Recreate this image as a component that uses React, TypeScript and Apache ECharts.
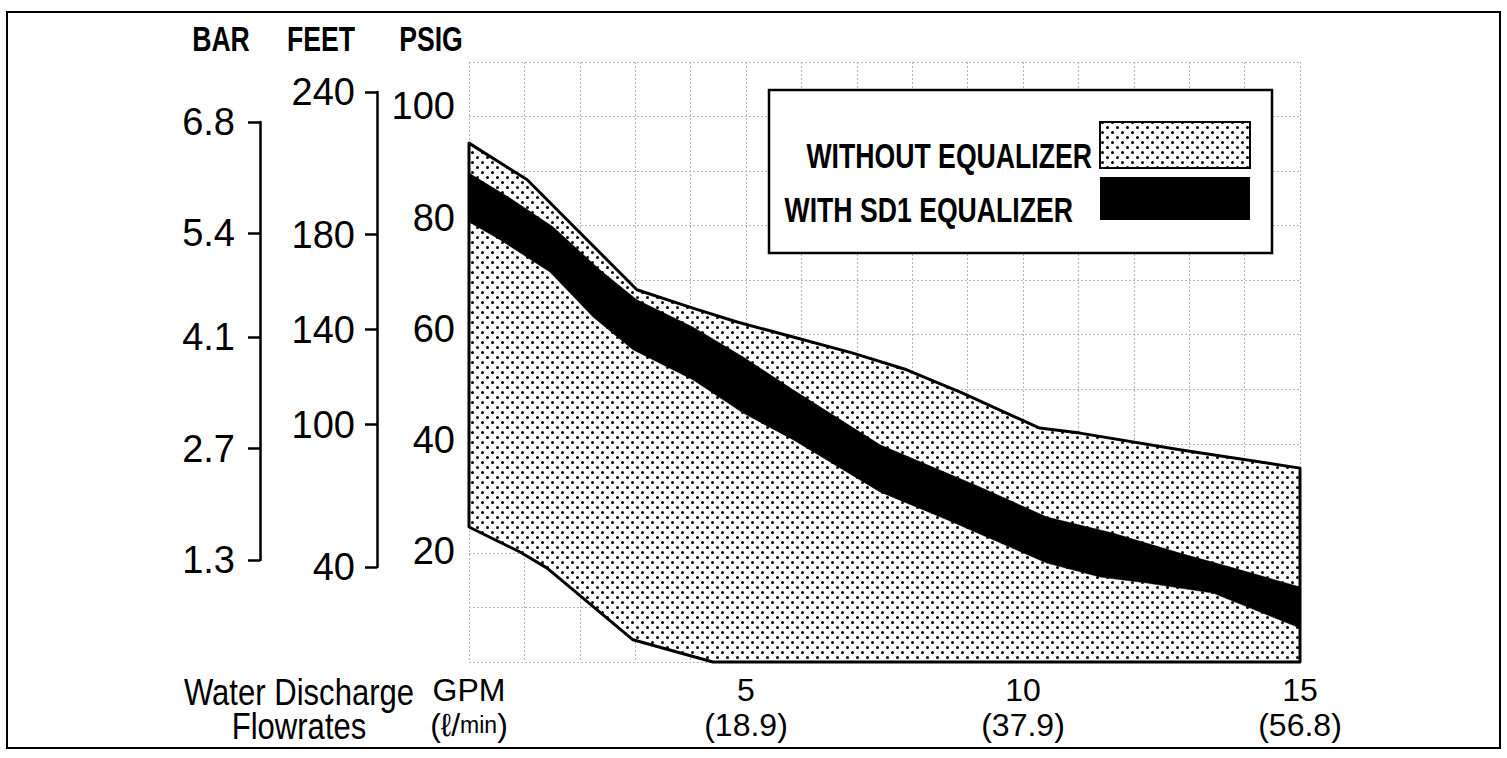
import React, { useEffect, useRef } from 'react';
import * as echarts from 'echarts';

// ---------- data ----------
const barTicks = [6.8, 5.4, 4.1, 2.7, 1.3];
const feetTicks = [240, 180, 140, 100, 40];
const psigTicks = [20, 40, 60, 80, 100];
const gpmTicks = [5, 10, 15];
const lpmLabels = ['18.9', '37.9', '56.8'];
const seriesNames = ['WITHOUT EQUALIZER', 'WITH SD1 EQUALIZER'];

// [GPM, PSIG]
const withoutUpper: [number, number][] = [
  [0, 93.4], [1.05, 86.8], [3.03, 67.0], [4.04, 63.7], [4.84, 61.2], [5.85, 58.5],
  [6.93, 55.6], [7.9, 52.6], [8.91, 48.4], [10.3, 42.1], [11.03, 41.2], [12.83, 38.2], [15, 34.9],
];
const withoutLower: [number, number][] = [
  [0, 24.3], [0.92, 19.8], [1.41, 16.9], [2.96, 4.0], [4.4, 0], [15, 0],
];
const withUpper: [number, number][] = [
  [0, 88.0], [0.74, 83.5], [1.52, 78.3], [2.36, 70.6], [3.03, 65.2], [4.04, 60.3], [4.95, 54.9],
  [5.85, 49.0], [7.42, 39.1], [9.22, 31.5], [10.43, 26.1], [11.62, 23.2], [12.83, 19.6], [13.74, 17.1], [15, 13.5],
];
const withLower: [number, number][] = [
  [0, 79.2], [0.56, 76.0], [1.46, 70.2], [2.24, 62.1], [2.96, 56.2], [4.04, 50.8], [4.95, 44.8],
  [5.85, 40.0], [7.42, 30.6], [8.63, 25.6], [10.43, 17.8], [11.39, 15.3], [12.24, 14.2], [13.43, 12.4], [15, 6.1],
];

const FONT = '"Liberation Sans", Arial, Helvetica, sans-serif';

const dotTile =
  'data:image/svg+xml;charset=utf-8,' +
  encodeURIComponent(
    '<svg xmlns="http://www.w3.org/2000/svg" width="10" height="10">' +
      '<rect width="10" height="10" fill="#ffffff"/>' +
      '<circle cx="2.5" cy="2.5" r="1.5" fill="#000"/>' +
      '<circle cx="7.5" cy="7.5" r="1.5" fill="#000"/>' +
      '</svg>'
  );

function dotPattern(): any {
  return { image: dotTile, repeat: 'repeat', imageWidth: 10, imageHeight: 10 };
}

function polygonSeries(name: string, upper: [number, number][], lower: [number, number][], style: any, z: number) {
  const pts = [...upper, ...lower.slice().reverse()];
  return {
    type: 'custom',
    name,
    xAxisIndex: 0,
    yAxisIndex: 0,
    z,
    silent: true,
    data: pts,
    encode: { x: 0, y: 1 },
    renderItem: (params: any, api: any) => {
      if (params.dataIndex !== 0) return null;
      const points = pts.map((p) => api.coord(p));
      return { type: 'polygon', shape: { points }, style };
    },
  };
}

function condensedText(text: string, x: number, y: number, opts: any, z = 5) {
  return {
    type: 'text',
    z,
    x,
    y,
    scaleX: opts.scaleX ?? 0.74,
    style: {
      text,
      fontFamily: FONT,
      fontWeight: opts.fontWeight ?? 'normal',
      fontSize: opts.fontSize ?? 36,
      lineHeight: opts.lineHeight,
      fill: '#000',
      align: opts.align ?? 'center',
      verticalAlign: opts.verticalAlign ?? 'middle',
    },
  };
}

export default function App() {
  const ref = useRef<HTMLDivElement>(null);

  useEffect(() => {
    if (!ref.current) return;
    const chart = echarts.init(ref.current, undefined, { renderer: 'svg' });

    const axisLabelBase = { color: '#000', fontFamily: FONT, fontSize: 38 };
    const blackLine = { color: '#000', width: 2.5 };
    const gridLine = { color: '#b4b4b4', width: 1, type: [2, 2] as any };

    const xLabelMap: Record<number, string> = { 0: 'GPM\n(ℓ/{s|min})' };
    gpmTicks.forEach((g, i) => {
      xLabelMap[g] = `${g}\n(${lpmLabels[i]})`;
    });

    const option: any = {
      animation: false,
      backgroundColor: '#fff',
      grid: [
        { left: 469, top: 62, width: 831, height: 600, outerBoundsMode: 'none' },
        { left: 260, top: 122, width: 1, height: 438, outerBoundsMode: 'none' },
        { left: 377, top: 92, width: 1, height: 475, outerBoundsMode: 'none' },
      ],
      xAxis: [
        {
          type: 'value', gridIndex: 0, min: 0, max: 15, interval: 1,
          axisLine: { show: false }, axisTick: { show: false },
          splitLine: { show: true, lineStyle: gridLine },
          axisLabel: {
            ...axisLabelBase, fontSize: 32, lineHeight: 35, margin: 10,
            formatter: (v: number) => xLabelMap[v] ?? '',
            rich: { s: { fontFamily: FONT, fontSize: 23, lineHeight: 35, color: '#000' } },
          },
        },
        { type: 'value', gridIndex: 1, show: false },
        { type: 'value', gridIndex: 2, show: false },
      ],
      yAxis: [
        {
          type: 'value', gridIndex: 0, min: 0, max: 108, interval: 20, position: 'left',
          axisLine: { show: false }, axisTick: { show: false }, splitLine: { show: false },
          axisLabel: {
            ...axisLabelBase, margin: 14,
            formatter: (v: number) => (psigTicks.includes(v) ? String(v) : ''),
          },
        },
        {
          type: 'value', gridIndex: 0, min: 0, max: 11, interval: 1, position: 'right',
          axisLine: { show: false }, axisTick: { show: false }, axisLabel: { show: false },
          splitLine: { show: true, lineStyle: gridLine },
        },
        {
          type: 'value', gridIndex: 1, min: 1.3, max: 6.8, position: 'left',
          axisLine: { show: true, lineStyle: blackLine },
          axisTick: { show: true, inside: false, length: 12, lineStyle: blackLine, customValues: barTicks },
          axisLabel: { ...axisLabelBase, margin: 25, customValues: barTicks, formatter: (v: number) => v.toFixed(1) },
          splitLine: { show: false },
        },
        {
          type: 'value', gridIndex: 2, min: 40, max: 240, position: 'left',
          axisLine: { show: true, lineStyle: blackLine },
          axisTick: { show: true, inside: false, length: 12, lineStyle: blackLine, customValues: feetTicks },
          axisLabel: { ...axisLabelBase, margin: 22, customValues: feetTicks },
          splitLine: { show: false },
        },
      ],
      series: [
        polygonSeries(seriesNames[0], withoutUpper, withoutLower,
          { fill: dotPattern(), stroke: '#000', lineWidth: 3, lineJoin: 'round' }, 2),
        polygonSeries(seriesNames[1], withUpper, withLower,
          { fill: '#000', stroke: '#000', lineWidth: 0.5 }, 3),
      ],
      graphic: [
        { type: 'rect', z: 0, shape: { x: 7, y: 12, width: 1493, height: 736 }, style: { fill: 'none', stroke: '#000', lineWidth: 2 } },
        condensedText('BAR', 221, 38, { fontWeight: 'bold', fontSize: 36 }),
        condensedText('FEET', 321, 38, { fontWeight: 'bold', fontSize: 36 }),
        condensedText('PSIG', 431, 38, { fontWeight: 'bold', fontSize: 36 }),
        condensedText('Water Discharge\nFlowrates', 299, 675, { fontSize: 37, lineHeight: 34, verticalAlign: 'top', scaleX: 0.84 }),
        // legend
        { type: 'rect', z: 10, shape: { x: 769, y: 90, width: 503, height: 163 }, style: { fill: '#fff', stroke: '#000', lineWidth: 2.5 } },
        condensedText(seriesNames[0], 1092, 155, { fontWeight: 'bold', fontSize: 36, align: 'right' }, 11),
        condensedText(seriesNames[1], 1073, 209, { fontWeight: 'bold', fontSize: 36, align: 'right' }, 11),
        { type: 'rect', z: 11, shape: { x: 1100, y: 122, width: 150, height: 46 }, style: { fill: dotPattern(), stroke: '#000', lineWidth: 2 } },
        { type: 'rect', z: 11, shape: { x: 1100, y: 177, width: 150, height: 43 }, style: { fill: '#000' } },
      ],
    };

    chart.setOption(option);
    return () => chart.dispose();
  }, []);

  return (
    <div
      ref={ref}
      style={{ position: 'fixed', left: 0, top: 0, width: 1507, height: 758, background: '#fff' }}
    />
  );
}
